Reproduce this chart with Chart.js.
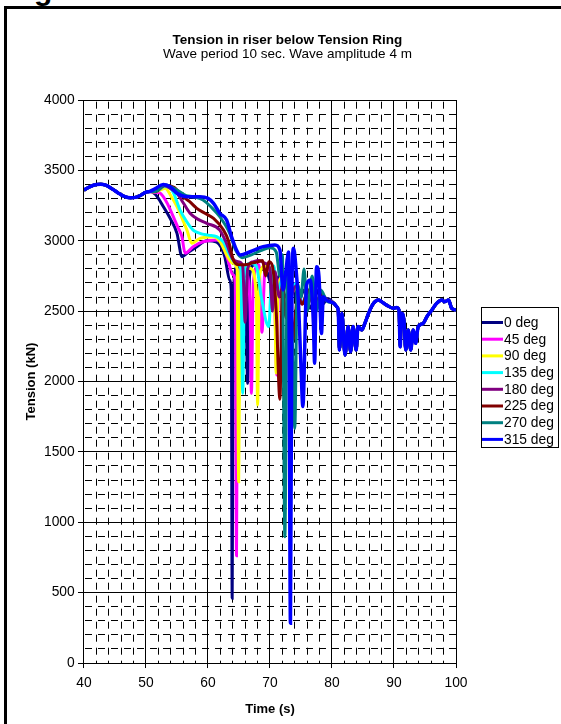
<!DOCTYPE html>
<html>
<head>
<meta charset="utf-8">
<script src="https://cdn.jsdelivr.net/npm/chart.js@4.4.1/dist/chart.umd.min.js"></script>
<style>
  body { margin: 0; background: #fff; }
  #wrap { position: relative; width: 561px; height: 724px; overflow: hidden; }
  #frame { position: absolute; left: 4px; top: 6px; width: 600px; height: 800px; border: 3px solid #000; box-sizing: border-box; }
  #head { position: absolute; left: 34px; top: -25px; font: bold 30px "Liberation Sans", Arial, sans-serif; line-height: 30px; }
  #box { position: absolute; left: 0; top: 0; width: 561px; height: 724px; }
</style>
</head>
<body>
<div id="wrap">
  <div id="head">g</div>
  <div id="frame"></div>
  <div id="box"><canvas id="myChart"></canvas></div>
</div>
<script>
// shared part, all directions sit on top of each other here
const headT = [40, 41, 42, 42.7, 43.5, 44.5, 45.5, 46.5, 47.5, 48.3, 49, 50, 50.6];
const headV = [3360, 3385, 3400, 3402, 3395, 3370, 3340, 3315, 3305, 3308, 3320, 3345, 3350];

const tailT = [80.3, 80.8, 81.0, 81.2, 81.6, 82.1, 82.6, 83.0, 83.4, 83.9, 84.2, 84.8, 85.3, 85.9, 86.7, 87.5, 88.0, 88.8, 89.9, 90.4, 90.8, 91.0, 91.2, 91.6, 91.9, 92.3, 92.7, 93.1, 93.5, 93.9, 94.7, 95.3, 96.1, 96.9, 97.7, 98.2, 98.8, 99.3, 100];
const tailV = [2556, 2530, 2508, 2224, 2485, 2188, 2390, 2212, 2390, 2224, 2390, 2366, 2413, 2485, 2556, 2579, 2567, 2543, 2520, 2526, 2508, 2247, 2485, 2437, 2224, 2366, 2224, 2366, 2271, 2390, 2413, 2460, 2508, 2556, 2579, 2567, 2579, 2520, 2508];

// 0 deg
const t0 = [51.5, 52.8, 54, 55, 55.8, 56.6, 58.2, 59.8, 61.4, 62.7, 63.5, 63.75, 63.9, 64.1, 64.8, 65.5, 66.1, 66.4, 66.7, 67.5, 68.5, 69.5, 70.5, 71.5, 72.5, 73.5, 74.5, 75.5, 76.5, 77.5, 78.5, 79.3];
const v0 = [3330, 3242, 3150, 3053, 2887, 2911, 2958, 3000, 2990, 2887, 2721, 2650, 460, 2650, 2820, 2760, 2600, 1987, 2750, 2830, 2800, 2780, 2650, 2750, 2600, 2700, 2550, 2650, 2520, 2650, 2550, 2590];
// 45 deg
const t45 = [51.5, 52.3, 53.5, 54.4, 55.2, 55.8, 56.3, 57.6, 59.2, 61.4, 62.5, 63.3, 64, 64.4, 64.6, 64.8, 65.5, 66.3, 66.8, 67, 67.3, 68.2, 68.7, 69.2, 70.2, 70.8, 71.1, 71.4, 72.2, 73.2, 74.2, 75.2, 76.2, 77.2, 78.2, 79.2];
const v45 = [3345, 3337, 3260, 3171, 3090, 3029, 2911, 2958, 2993, 3005, 2960, 2850, 2760, 2700, 762, 2700, 2800, 2760, 2500, 1916, 2700, 2830, 2350, 2800, 2780, 2500, 2046, 2700, 2750, 2600, 2700, 2550, 2650, 2520, 2620, 2580];
// 90 deg
const t90 = [51.5, 53.1, 54, 55, 56, 56.6, 57.4, 58.7, 60.9, 62, 63, 64, 64.7, 64.95, 65.2, 66, 67, 67.8, 68, 68.3, 69.2, 70.2, 70.8, 71.0, 71.3, 72.2, 73.2, 74.2, 75.2, 76.2, 77.2, 78.2, 79.2];
const v90 = [3348, 3373, 3320, 3242, 3140, 3076, 2982, 3017, 3029, 2990, 2900, 2840, 2800, 1288, 2780, 2820, 2800, 2600, 1833, 2750, 2820, 2800, 2500, 2060, 2650, 2750, 2600, 2680, 2550, 2650, 2520, 2620, 2580];
// 135 deg
const t135 = [51.5, 53, 54.2, 55.5, 56.5, 57.6, 58.7, 60, 61.4, 62.5, 63.5, 64.5, 65.3, 65.6, 65.9, 66.8, 67.8, 68.6, 69.8, 70.2, 70.6, 71.2, 72.2, 73.2, 74.2, 75.2, 76.2, 77.2, 78.2, 79.2];
const v135 = [3350, 3385, 3360, 3218, 3140, 3076, 3053, 3040, 3029, 2990, 2900, 2840, 2800, 1916, 2780, 2840, 2820, 2600, 2390, 2700, 2820, 2650, 2750, 2620, 2700, 2560, 2650, 2520, 2620, 2580];
// 180 deg
const t180 = [51.5, 53, 54, 55, 56, 57.1, 58.5, 59.8, 61.9, 63, 64, 65, 65.6, 66, 66.4, 67.2, 68.2, 69.2, 70, 70.4, 70.8, 71.5, 72.3, 73.2, 74.2, 75.2, 76.2, 77.2, 78.2, 79.2];
const v180 = [3350, 3390, 3370, 3337, 3270, 3195, 3150, 3124, 3076, 2980, 2870, 2850, 2820, 2420, 2800, 2850, 2860, 2840, 2800, 2500, 2780, 2600, 2720, 2600, 2680, 2550, 2640, 2520, 2620, 2580];
// 225 deg
const t225 = [51.5, 53, 54.5, 56, 57, 58.2, 59.5, 60.9, 62.5, 63.3, 64.1, 65, 66, 67, 68, 68.8, 69.3, 69.8, 70.4, 71, 71.6, 72, 72.6, 73.2, 73.8, 74.4, 75.2, 76.2, 77.2, 78.2, 79.2];
const v225 = [3350, 3395, 3380, 3313, 3280, 3230, 3195, 3159, 3076, 3000, 2863, 2830, 2830, 2840, 2850, 2860, 2750, 2850, 2820, 2500, 1874, 2700, 2450, 2650, 2300, 2600, 2550, 2650, 2520, 2620, 2580];
// 270 deg
const t270 = [51.5, 53, 55, 56.5, 57.6, 59.2, 60.5, 61.9, 63.5, 64.5, 65.5, 67, 68.5, 70, 71, 71.6, 72.0, 72.4, 72.8, 73.2, 73.6, 74.0, 74.4, 75, 75.5, 76, 76.8, 77.5, 78.2, 79.2];
const v270 = [3350, 3398, 3360, 3320, 3313, 3290, 3240, 3171, 3053, 2930, 2880, 2900, 2930, 2950, 2920, 2750, 2900, 897, 2880, 2600, 2300, 1667, 2700, 2600, 2800, 2500, 2750, 2500, 2650, 2570];
// 315 deg
const t315 = [51.5, 52.8, 54, 55, 56.6, 58.7, 60, 60.9, 61.9, 63, 63.8, 64.6, 65.2, 66.8, 68.9, 70.8, 71.6, 72.1, 72.6, 73.0, 73.3, 73.55, 73.8, 74.3, 74.6, 75.0, 75.3, 75.9, 76.5, 77.0, 77.2, 77.5, 77.9, 78.3, 78.6, 79.1, 79.7];
const v315 = [3370, 3400, 3380, 3337, 3313, 3313, 3301, 3266, 3195, 3147, 3029, 2934, 2899, 2922, 2958, 2970, 2934, 2650, 2800, 2920, 282, 2700, 2946, 2745, 2556, 2100, 1822, 2686, 2721, 2413, 2129, 2816, 2745, 2342, 2603, 2579, 2567];

const labels = ['0 deg', '45 deg', '90 deg', '135 deg', '180 deg', '225 deg', '270 deg', '315 deg'];
const colors = ['#000080', '#FF00FF', '#FFFF00', '#00FFFF', '#800080', '#800000', '#008080', '#0000FF'];
const midT = [t0, t45, t90, t135, t180, t225, t270, t315];
const midV = [v0, v45, v90, v135, v180, v225, v270, v315];

const FONT = '"Liberation Sans", Arial, sans-serif';

function toPoints(ts, vs) {
    return ts.map((t, i) => ({x: t, y: vs[i]}));
}

const isMajor = (c, step) => c.tick && Math.abs(c.tick.value % step) < 1e-6;

// legend with a frame, drawn next to the plot
const boxLegend = {
    id: 'boxLegend',
    afterDraw(chart) {
        const ctx = chart.ctx;
        const a = chart.chartArea;
        const left = Math.round(a.right + 25), top = 307, rowH = 16.7;
        ctx.save();
        ctx.strokeStyle = '#000';
        ctx.lineWidth = 1;
        ctx.strokeRect(left + 0.5, top + 0.5, 77, 140);
        ctx.font = '13.8px ' + FONT;
        ctx.textBaseline = 'middle';
        ctx.fillStyle = '#000';
        chart.data.datasets.forEach((ds, i) => {
            const y = top + 15.5 + i * rowH;
            ctx.strokeStyle = ds.borderColor;
            ctx.lineWidth = 3;
            ctx.beginPath();
            ctx.moveTo(left + 1, y);
            ctx.lineTo(left + 22, y);
            ctx.stroke();
            ctx.fillText(ds.label, left + 23, y + 0.5);
        });
        ctx.restore();
    }
};

const ctx = document.getElementById('myChart').getContext('2d');
const myChart = new Chart(ctx, {
    type: 'line',
    data: {
        datasets: labels.map((lab, i) => ({
            label: lab,
            data: toPoints(headT.concat(midT[i], tailT), headV.concat(midV[i], tailV)),
            borderColor: colors[i],
            backgroundColor: colors[i],
            borderWidth: i === 7 ? 3.5 : 3,
            pointRadius: 0,
            cubicInterpolationMode: 'monotone',
            order: 7 - i,
        }))
    },
    options: {
        responsive: true,
        maintainAspectRatio: false,
        animation: false,
        layout: { padding: { left: 23.9, right: 10, top: 0, bottom: 7.2 } },
        plugins: {
            legend: { display: false },
            tooltip: { enabled: false },
            title: {
                display: true,
                text: 'Tension in riser below Tension Ring',
                color: '#000',
                font: { family: FONT, size: 13.5, weight: 'bold', lineHeight: 1 },
                padding: { top: 33.25, bottom: 0 }
            },
            subtitle: {
                display: true,
                text: 'Wave period 10 sec. Wave amplitude 4 m',
                color: '#000',
                font: { family: FONT, size: 13.5, lineHeight: 1 },
                padding: { top: 1, bottom: 38.75 }
            }
        },
        scales: {
            x: {
                type: 'linear',
                min: 40,
                max: 100,
                ticks: {
                    stepSize: 2,
                    autoSkip: false,
                    maxRotation: 0,
                    maxTicksLimit: 100,
                    padding: 7.2,
                    color: '#000',
                    font: { family: FONT, size: 13.8 },
                    callback: v => (v % 10 === 0 ? v : '')
                },
                grid: {
                    color: '#000',
                    lineWidth: 1,
                    tickLength: 5,
                    tickColor: c => (isMajor(c, 10) ? '#000' : 'rgba(0,0,0,0)')
                },
                border: {
                    color: '#000',
                    dash: c => (c.tick && !isMajor(c, 10) ? [7, 6] : []),
                    dashOffset: 11.3
                },
                title: {
                    display: true,
                    text: 'Time (s)',
                    color: '#000',
                    font: { family: FONT, size: 13, weight: 'bold' },
                    padding: { top: 2.2, bottom: 0 }
                }
            },
            y: {
                min: 0,
                max: 4000,
                ticks: {
                    stepSize: 100,
                    autoSkip: false,
                    maxTicksLimit: 100,
                    padding: 3.3,
                    color: '#000',
                    font: { family: FONT, size: 13.8 },
                    callback: v => (v % 500 === 0 ? v : '')
                },
                grid: {
                    color: '#000',
                    lineWidth: 1,
                    tickLength: 6,
                    tickColor: c => (isMajor(c, 500) ? '#000' : 'rgba(0,0,0,0)')
                },
                border: {
                    color: '#000',
                    dash: c => (c.tick && !isMajor(c, 500) ? [7, 6] : []),
                    dashOffset: 12
                },
                title: {
                    display: true,
                    text: 'Tension (kN)',
                    color: '#000',
                    font: { family: FONT, size: 13, weight: 'bold' },
                    padding: { top: 0, bottom: 1.2 }
                }
            },
            // keeps room on the right for the legend box
            side: {
                position: 'right',
                display: true,
                grid: { display: false },
                border: { display: false },
                ticks: { display: false },
                afterFit: s => { s.width = 95; }
            }
        }
    },
    plugins: [boxLegend]
});
</script>
</body>
</html>
